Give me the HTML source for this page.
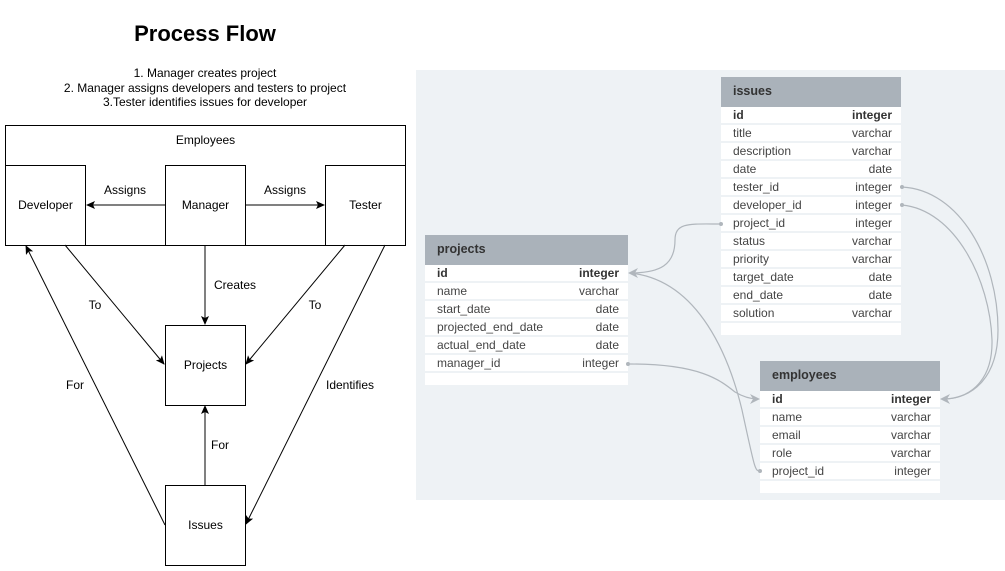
<!DOCTYPE html>
<html><head><meta charset="utf-8"><style>
body{margin:0;width:1005px;height:571px;background:#fff;font-family:"Liberation Sans",sans-serif;position:relative;overflow:hidden}
.a{position:absolute}
.box{position:absolute;border:1px solid #000;box-sizing:border-box;background:#fff;display:flex;align-items:center;justify-content:center;font-size:12px;color:#000;padding-bottom:2px}
.lbl{position:absolute;font-size:12px;transform:translate(-50%,-50%);background:#fff;white-space:nowrap}
.tbl{position:absolute;background:#fff;font-size:12px;color:#444}
.tbl .h{background:#aab2ba;height:30px;line-height:28px;padding-left:12px;font-weight:bold;color:#333;font-size:12.5px}
.tbl .r{height:16px;line-height:16px;padding:0 9px 0 12px;display:flex;justify-content:space-between;background:#fff;border-bottom:2px solid #eef2f5}
.tbl .r.b{font-weight:bold;color:#333}
</style></head><body>
<div class="a" style="left:0;width:410px;top:21px;text-align:center;font-size:22px;font-weight:bold">Process Flow</div>
<div class="a" style="left:0;width:410px;top:66px;text-align:center;font-size:12px;line-height:14.5px">1. Manager creates project<br>2. Manager assigns developers and testers to project<br>3.Tester identifies issues for developer</div>
<div class="box" style="left:5px;top:125px;width:401px;height:121px;align-items:flex-start;padding-top:7px">Employees</div>
<div class="box" style="left:5px;top:165px;width:81px;height:81px">Developer</div>
<div class="box" style="left:165px;top:165px;width:81px;height:81px">Manager</div>
<div class="box" style="left:325px;top:165px;width:81px;height:81px">Tester</div>
<div class="box" style="left:165px;top:325px;width:81px;height:81px">Projects</div>
<div class="box" style="left:165px;top:485px;width:81px;height:81px">Issues</div>
<svg class="a" style="left:0;top:0" width="1005" height="571">
<defs><marker id="m" markerWidth="10" markerHeight="10" refX="8" refY="4" orient="auto" markerUnits="userSpaceOnUse"><path d="M0,0 L9,4 L0,8 L2,4z" fill="#000"/></marker></defs>
<g stroke="#000" stroke-width="1" fill="none" marker-end="url(#m)">
<line x1="165" y1="205" x2="87" y2="205"/>
<line x1="245" y1="205" x2="324" y2="205"/>
<line x1="205" y1="245" x2="205" y2="324"/>
<line x1="65" y1="245" x2="164" y2="364"/>
<line x1="345" y1="245" x2="246" y2="364"/>
<line x1="165" y1="525" x2="26" y2="246"/>
<line x1="385" y1="245" x2="246" y2="524"/>
<line x1="205" y1="485" x2="205" y2="406"/>
</g>
</svg>
<div class="lbl" style="left:125px;top:190px">Assigns</div>
<div class="lbl" style="left:285px;top:190px">Assigns</div>
<div class="lbl" style="left:235px;top:285px">Creates</div>
<div class="lbl" style="left:95px;top:305px">To</div>
<div class="lbl" style="left:315px;top:305px">To</div>
<div class="lbl" style="left:75px;top:385px">For</div>
<div class="lbl" style="left:350px;top:385px">Identifies</div>
<div class="lbl" style="left:220px;top:445px">For</div>
<div class="a" style="left:416px;top:70px;width:589px;height:430px;background:#eef2f5"></div>
<div class="tbl" style="left:721px;top:77px;width:180px;height:258px">
<div class="h">issues</div>
<div class="r b"><span>id</span><span>integer</span></div>
<div class="r"><span>title</span><span>varchar</span></div>
<div class="r"><span>description</span><span>varchar</span></div>
<div class="r"><span>date</span><span>date</span></div>
<div class="r"><span>tester_id</span><span>integer</span></div>
<div class="r"><span>developer_id</span><span>integer</span></div>
<div class="r"><span>project_id</span><span>integer</span></div>
<div class="r"><span>status</span><span>varchar</span></div>
<div class="r"><span>priority</span><span>varchar</span></div>
<div class="r"><span>target_date</span><span>date</span></div>
<div class="r"><span>end_date</span><span>date</span></div>
<div class="r"><span>solution</span><span>varchar</span></div>
</div>
<div class="tbl" style="left:425px;top:235px;width:203px;height:150px">
<div class="h">projects</div>
<div class="r b"><span>id</span><span>integer</span></div>
<div class="r"><span>name</span><span>varchar</span></div>
<div class="r"><span>start_date</span><span>date</span></div>
<div class="r"><span>projected_end_date</span><span>date</span></div>
<div class="r"><span>actual_end_date</span><span>date</span></div>
<div class="r"><span>manager_id</span><span>integer</span></div>
</div>
<div class="tbl" style="left:760px;top:361px;width:180px;height:132px">
<div class="h">employees</div>
<div class="r b"><span>id</span><span>integer</span></div>
<div class="r"><span>name</span><span>varchar</span></div>
<div class="r"><span>email</span><span>varchar</span></div>
<div class="r"><span>role</span><span>varchar</span></div>
<div class="r"><span>project_id</span><span>integer</span></div>
</div>
<svg class="a" style="left:0;top:0" width="1005" height="571">
<g stroke="#b0b6bc" stroke-width="1.2" fill="none">
<path d="M720,224 C690,224 675,222 675,240 C675,265 660,273 630,273"/>
<path d="M630,273 C700,280 730,360 742,410 C755,470 755,471 760,471"/>
<path d="M630,364 C700,364 720,380 735,392 C745,398 752,399 758,399"/>
<path d="M902,187 C960,190 998,260 998,330 C998,380 970,399 944,399"/>
<path d="M902,205 C955,210 990,280 992,340 C993,385 965,399 944,399"/>
</g>
<g fill="#b0b6bc">
<path d="M628,273 l10,-5 l-3,5 l3,5z"/>
<path d="M760,399 l-10,-5 l3,5 l-3,5z"/>
<path d="M940,399 l10,-5 l-3,5 l3,5z"/>
<circle cx="721" cy="224" r="2"/><circle cx="902" cy="187" r="2"/><circle cx="902" cy="205" r="2"/>
<circle cx="628" cy="364" r="2"/><circle cx="760" cy="471" r="2"/>
</g>
</svg>
</body></html>
